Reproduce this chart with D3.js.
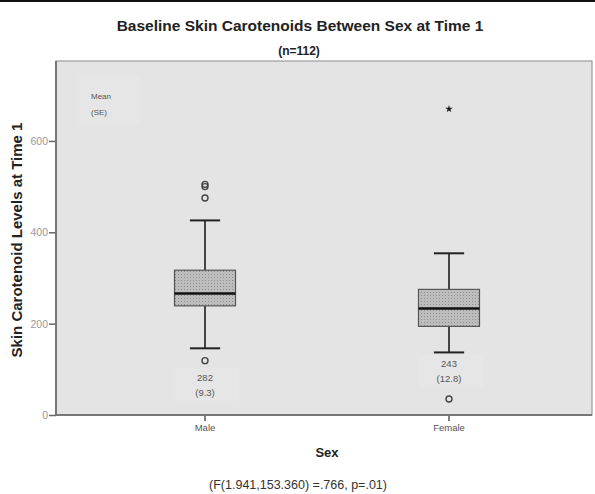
<!DOCTYPE html>
<html>
<head>
<meta charset="utf-8">
<script src="https://cdn.jsdelivr.net/npm/d3@7"></script>
<style>
    body { margin: 0; background: #fff; }
    text { font-family: "Liberation Sans", Arial, sans-serif; }
</style>
</head>
<body>
<svg id="chart" width="595" height="494"></svg>
<script>
    "use strict";

    // Box plot summary per sex
    var categories = ["Male", "Female"];
    var whiskerLow = [146, 137];
    var quartile1 = [239, 194];
    var medians = [266, 233];
    var quartile3 = [317, 275];
    var whiskerHigh = [426, 354];
    var outliers = [[119, 475, 500, 505], [35]];
    var extremes = [[], [670]];
    var meanLabels = ["282", "243"];
    var seLabels = ["(9.3)", "(12.8)"];
    var yTicks = [0, 200, 400, 600];

    const WIDTH = 595;
    const PLOT_LEFT = 56;
    const PLOT_RIGHT = 592;
    const PLOT_TOP = 61;
    const PLOT_BOTTOM = 415;

    var svg = d3.select("#chart");

    // Dotted fill used by SPSS boxes
    var pattern = svg.append("defs")
        .append("pattern")
            .attr("id", "dots")
            .attr("width", 3)
            .attr("height", 3)
            .attr("patternUnits", "userSpaceOnUse");
    pattern.append("rect")
        .attr("width", 3).attr("height", 3)
        .attr("fill", "#bdbdbd");
    pattern.append("rect")
        .attr("x", 1).attr("y", 1)
        .attr("width", 1).attr("height", 1)
        .attr("fill", "#8f8f8f");

    // Top border line of the image
    svg.append("rect")
        .attr("x", 0).attr("y", 0)
        .attr("width", WIDTH).attr("height", 2)
        .attr("fill", "#111");

    var y = d3.scaleLinear()
        .domain([0, 775])
        .range([PLOT_BOTTOM, PLOT_TOP]);

    var x = d3.scaleBand()
        .domain(categories)
        .range([83, 571]);

    var center = function(d) { return x(d) + x.bandwidth() / 2; };
    var boxHalf = x.bandwidth() * 0.125;
    var capHalf = x.bandwidth() * 0.062;

    // Plot background
    svg.append("rect")
        .attr("x", PLOT_LEFT)
        .attr("y", PLOT_TOP)
        .attr("width", PLOT_RIGHT - PLOT_LEFT)
        .attr("height", PLOT_BOTTOM - PLOT_TOP)
        .attr("fill", "#e4e4e4")
        .attr("stroke", "#8a8a8a")
        .attr("stroke-width", 1);

    // Legend "Mean (SE)"
    svg.append("rect")
        .attr("x", 78).attr("y", 76)
        .attr("width", 62).attr("height", 48)
        .attr("fill", "#e6e6e6");
    svg.append("text")
        .attr("x", 91).attr("y", 99)
        .attr("font-size", 8)
        .attr("fill", "#555")
        .text("Mean");
    svg.append("text")
        .attr("x", 91).attr("y", 115)
        .attr("font-size", 8)
        .attr("fill", "#555")
        .text("(SE)");

    // Y axis
    var yAxis = svg.append("g")
        .attr("transform", "translate(" + PLOT_LEFT + ",0)")
        .call(d3.axisLeft(y).tickValues(yTicks).tickSize(7).tickPadding(1).tickSizeOuter(0));
    yAxis.select(".domain").remove();
    yAxis.selectAll(".tick line").attr("stroke", "#666").attr("stroke-width", 1.5);
    yAxis.selectAll(".tick text")
        .attr("font-size", 10.5)
        .attr("fill", "#999")
        .attr("font-family", "Liberation Sans, Arial, sans-serif");

    svg.append("line")
        .attr("x1", PLOT_LEFT).attr("x2", PLOT_LEFT)
        .attr("y1", PLOT_TOP).attr("y2", PLOT_BOTTOM)
        .attr("stroke", "#777")
        .attr("stroke-width", 2);

    // X axis
    var xAxis = svg.append("g")
        .attr("transform", "translate(0," + PLOT_BOTTOM + ")")
        .call(d3.axisBottom(x).tickSize(6).tickPadding(3).tickSizeOuter(0));
    xAxis.select(".domain").remove();
    xAxis.selectAll(".tick line").attr("stroke", "#555").attr("stroke-width", 1.5);
    xAxis.selectAll(".tick text")
        .attr("font-size", 9.5)
        .attr("fill", "#555")
        .attr("font-family", "Liberation Sans, Arial, sans-serif");

    svg.append("line")
        .attr("x1", PLOT_LEFT).attr("x2", PLOT_RIGHT)
        .attr("y1", PLOT_BOTTOM).attr("y2", PLOT_BOTTOM)
        .attr("stroke", "#777")
        .attr("stroke-width", 2);

    // Boxes
    var groups = svg.append("g")
        .attr("id", "boxGroup")
        .selectAll("g")
            .data(categories)
            .enter().append("g");

    // Mean (SE) annotation under each box
    function LabelBaseline(i)
    {
        var near = outliers[i].filter(function(v) { return v < whiskerLow[i] && v > whiskerLow[i] - 40; });
        if (near.length > 0)
        {
            return y(d3.min(near)) + 20;
        }
        return y(whiskerLow[i]) + 15;
    }

    groups.append("rect")
        .attr("x", function(d) { return center(d) - 30; })
        .attr("y", function(d, i) { return LabelBaseline(i) - 13; })
        .attr("width", 64)
        .attr("height", 33)
        .attr("fill", "#e6e6e6");

    groups.append("text")
        .attr("x", center)
        .attr("y", function(d, i) { return LabelBaseline(i); })
        .attr("text-anchor", "middle")
        .attr("font-size", 9.5)
        .attr("fill", "#555")
        .text(function(d, i) { return meanLabels[i]; });

    groups.append("text")
        .attr("x", center)
        .attr("y", function(d, i) { return LabelBaseline(i) + 15; })
        .attr("text-anchor", "middle")
        .attr("font-size", 9.5)
        .attr("fill", "#555")
        .text(function(d, i) { return seLabels[i]; });

    // Whiskers
    groups.append("line")
        .attr("x1", center).attr("x2", center)
        .attr("y1", function(d, i) { return y(whiskerHigh[i]); })
        .attr("y2", function(d, i) { return y(whiskerLow[i]); })
        .attr("stroke", "#333")
        .attr("stroke-width", 1.8);

    groups.append("line")
        .attr("x1", function(d) { return center(d) - capHalf; })
        .attr("x2", function(d) { return center(d) + capHalf; })
        .attr("y1", function(d, i) { return y(whiskerHigh[i]); })
        .attr("y2", function(d, i) { return y(whiskerHigh[i]); })
        .attr("stroke", "#222")
        .attr("stroke-width", 2);

    groups.append("line")
        .attr("x1", function(d) { return center(d) - capHalf; })
        .attr("x2", function(d) { return center(d) + capHalf; })
        .attr("y1", function(d, i) { return y(whiskerLow[i]); })
        .attr("y2", function(d, i) { return y(whiskerLow[i]); })
        .attr("stroke", "#222")
        .attr("stroke-width", 2);

    groups.append("rect")
        .attr("x", function(d) { return center(d) - boxHalf; })
        .attr("y", function(d, i) { return y(quartile3[i]); })
        .attr("width", boxHalf * 2)
        .attr("height", function(d, i) { return y(quartile1[i]) - y(quartile3[i]); })
        .attr("fill", "url(#dots)")
        .attr("stroke", "#555")
        .attr("stroke-width", 1.2);

    groups.append("line")
        .attr("x1", function(d) { return center(d) - boxHalf; })
        .attr("x2", function(d) { return center(d) + boxHalf; })
        .attr("y1", function(d, i) { return y(medians[i]); })
        .attr("y2", function(d, i) { return y(medians[i]); })
        .attr("stroke", "#111")
        .attr("stroke-width", 2.5);

    // Outliers as open circles
    groups.selectAll("circle")
        .data(function(d, i) { return outliers[i].map(function(v) { return { cat: d, value: v }; }); })
        .enter().append("circle")
            .attr("cx", function(o) { return center(o.cat); })
            .attr("cy", function(o) { return y(o.value); })
            .attr("r", 3)
            .attr("fill", "none")
            .attr("stroke", "#444")
            .attr("stroke-width", 1.4);

    // Extreme values as stars
    groups.selectAll("path.extreme")
        .data(function(d, i) { return extremes[i].map(function(v) { return { cat: d, value: v }; }); })
        .enter().append("path")
            .attr("class", "extreme")
            .attr("transform", function(o) { return "translate(" + center(o.cat) + "," + y(o.value) + ")"; })
            .attr("d", d3.symbol().type(d3.symbolStar).size(18))
            .attr("fill", "#222");

    // Titles
    svg.append("text")
        .attr("x", 300).attr("y", 31)
        .attr("text-anchor", "middle")
        .attr("font-size", 15.5)
        .attr("font-weight", "bold")
        .attr("fill", "#222")
        .text("Baseline Skin Carotenoids Between Sex at Time 1");

    svg.append("text")
        .attr("x", 299).attr("y", 55)
        .attr("text-anchor", "middle")
        .attr("font-size", 12)
        .attr("font-weight", "bold")
        .attr("fill", "#222")
        .text("(n=112)");

    svg.append("text")
        .attr("transform", "translate(22,240) rotate(-90)")
        .attr("text-anchor", "middle")
        .attr("font-size", 15)
        .attr("font-weight", "bold")
        .attr("fill", "#222")
        .text("Skin Carotenoid Levels at Time 1");

    svg.append("text")
        .attr("x", 327).attr("y", 457)
        .attr("text-anchor", "middle")
        .attr("font-size", 13)
        .attr("font-weight", "bold")
        .attr("fill", "#222")
        .text("Sex");

    svg.append("text")
        .attr("x", 298).attr("y", 489)
        .attr("text-anchor", "middle")
        .attr("font-size", 12.5)
        .attr("fill", "#333")
        .text("(F(1.941,153.360) =.766, p=.01)");
</script>
</body>
</html>
